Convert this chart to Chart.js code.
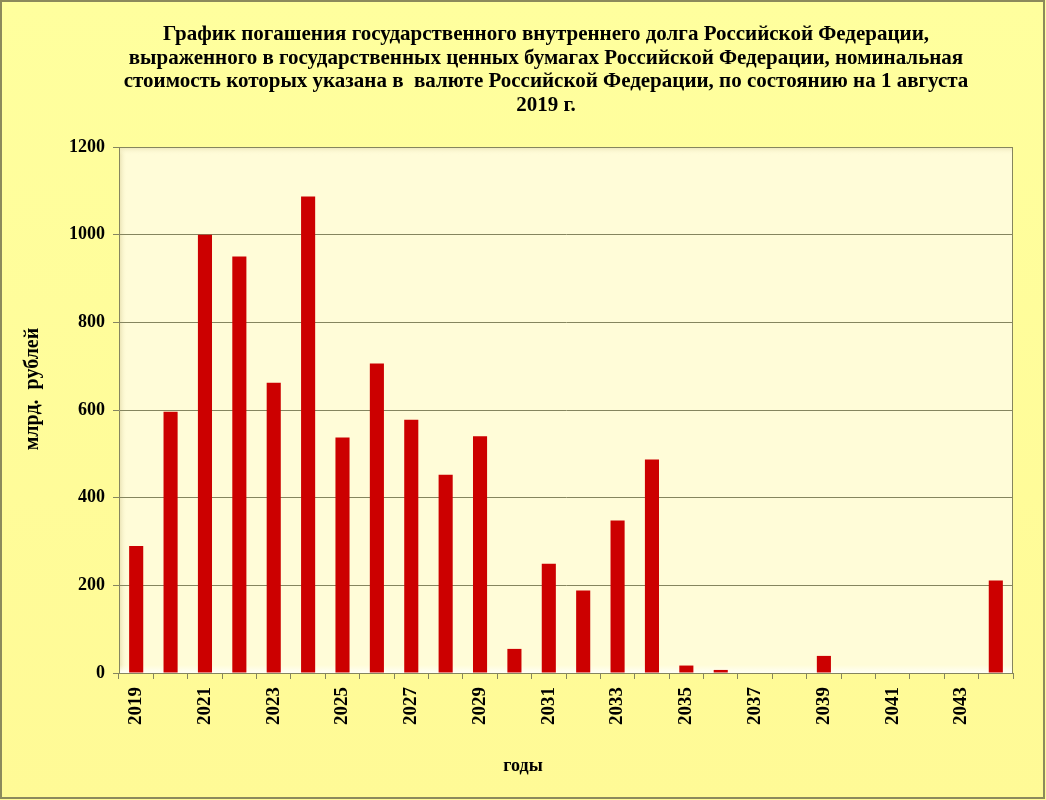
<!DOCTYPE html>
<html>
<head>
<meta charset="utf-8">
<script src="https://cdn.jsdelivr.net/npm/chart.js@4.4.0/dist/chart.umd.min.js"></script>
<style>
  html, body { margin: 0; padding: 0; background: #ffff99; }
  #wrap { width: 1046px; height: 800px; position: relative; }
</style>
</head>
<body>
<div id="wrap"><canvas id="chart-debt"></canvas></div>
<script>
const years = [
  '2019', '2020', '2021', '2022', '2023', '2024', '2025', '2026', '2027',
  '2028', '2029', '2030', '2031', '2032', '2033', '2034', '2035', '2036',
  '2037', '2038', '2039', '2040', '2041', '2042', '2043', '2044',
]
// млрд. рублей
const redemption = [
  290, 596, 1000, 950, 662, 1087, 537, 706, 578,
  452, 540, 55, 249, 188, 348, 487, 17, 7,
  0, 0, 39, 0, 0, 0, 0, 211,
]
const yMin = 0
const yMax = 1200
const yStep = 200

const titleLines = [
  'График погашения государственного внутреннего долга Российской Федерации,',
  'выраженного в государственных ценных бумагах Российской Федерации, номинальная',
  'стоимость которых указана в  валюте Российской Федерации, по состоянию на 1 августа',
  '2019 г.',
]
const yTitle = 'млрд.  рублей'
const xTitle = 'годы'

const serif = "'Liberation Serif', 'Times New Roman', serif"
const olive = '#85855f'

const framePlugin = {
  id: 'frame',
  beforeDraw (chart) {
    const { ctx, width, height, chartArea: a } = chart
    ctx.save()
    const bg = ctx.createLinearGradient(0, 0, 0, height)
    bg.addColorStop(0, '#ffff9e')
    bg.addColorStop(1, '#fffa96')
    ctx.fillStyle = bg
    ctx.fillRect(0, 0, width, height)
    ctx.strokeStyle = '#8c8a5c'
    ctx.lineWidth = 2
    ctx.strokeRect(1, 1, width - 3, height - 3)

    // plot area, a bit of the old 3d wall look
    ctx.fillStyle = '#fffcd8'
    ctx.fillRect(a.left, a.top, a.width, a.height)
    const wall = ctx.createLinearGradient(a.left, 0, a.left + 8, 0)
    wall.addColorStop(0, '#e6deae')
    wall.addColorStop(1, 'rgba(255,252,216,0)')
    ctx.fillStyle = wall
    ctx.fillRect(a.left, a.top, 8, a.height)
    const top = ctx.createLinearGradient(0, a.top, 0, a.top + 8)
    top.addColorStop(0, '#ece5b8')
    top.addColorStop(1, 'rgba(255,252,216,0)')
    ctx.fillStyle = top
    ctx.fillRect(a.left, a.top, a.width, 8)
    const floor = ctx.createLinearGradient(0, a.bottom - 8, 0, a.bottom)
    floor.addColorStop(0, 'rgba(255,255,245,0)')
    floor.addColorStop(1, '#fffff6')
    ctx.fillStyle = floor
    ctx.fillRect(a.left, a.bottom - 8, a.width, 8)
    ctx.strokeStyle = olive
    ctx.lineWidth = 1
    ctx.beginPath()
    ctx.moveTo(a.left + 0.5, a.top + 0.5)
    ctx.lineTo(a.right - 0.5, a.top + 0.5)
    ctx.lineTo(a.right - 0.5, a.bottom)
    ctx.stroke()
    ctx.restore()
  },
  afterDraw (chart) {
    const { ctx } = chart
    ctx.save()
    ctx.fillStyle = '#000'
    ctx.textAlign = 'center'
    ctx.textBaseline = 'middle'
    ctx.font = 'bold 21px ' + serif
    titleLines.forEach((line, i) => {
      ctx.fillText(line, 546, 35 + i * 23.5)
    })
    ctx.font = 'bold 18px ' + serif
    ctx.fillText(xTitle, 523, 766)
    ctx.font = 'bold 20px ' + serif
    ctx.translate(33, 389)
    ctx.rotate(-Math.PI / 2)
    ctx.fillText(yTitle, 0, 0)
    ctx.restore()
  },
}

new Chart(document.getElementById('chart-debt').getContext('2d'), {
  type: 'bar',
  data: {
    labels: years,
    datasets: [{
      data: redemption,
      backgroundColor: '#cc0000',
      borderWidth: 0,
      barPercentage: 0.41,
      categoryPercentage: 1,
    }],
  },
  options: {
    responsive: true,
    maintainAspectRatio: false,
    animation: false,
    layout: {
      padding: { top: 147, right: 33, bottom: 0, left: 0 },
    },
    plugins: {
      legend: { display: false },
      title: { display: false },
      tooltip: { enabled: false },
    },
    scales: {
      x: {
        afterFit (scale) { scale.height = 127 },
        grid: {
          offset: true,
          drawOnChartArea: false,
          drawTicks: true,
          tickLength: 6,
          color: olive,
        },
        border: { color: olive },
        ticks: {
          autoSkip: false,
          maxRotation: 90,
          minRotation: 90,
          padding: 8,
          color: '#000',
          font: { family: serif, size: 19, weight: 'bold' },
          callback (value, index) {
            return index % 2 === 0 ? years[index] : ''
          },
        },
      },
      y: {
        min: yMin,
        max: yMax,
        afterFit (scale) { scale.width = 119 },
        grid: {
          color: olive,
          tickLength: 6,
        },
        border: { color: olive },
        ticks: {
          stepSize: yStep,
          padding: 8,
          color: '#000',
          font: { family: serif, size: 18, weight: 'bold' },
          callback (value) { return String(value) },
        },
      },
    },
  },
  plugins: [framePlugin],
})
</script>
</body>
</html>
